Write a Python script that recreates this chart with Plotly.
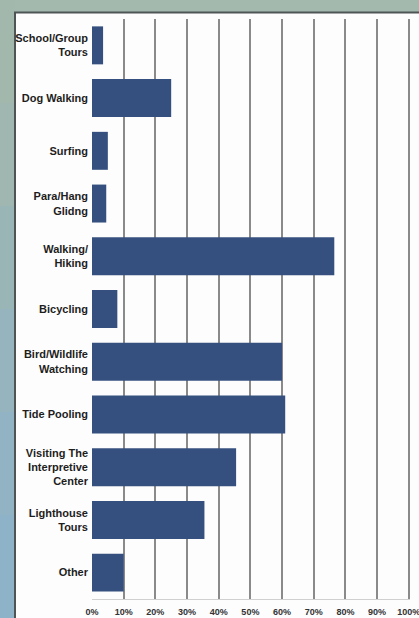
import plotly.graph_objects as go

categories = [
    "School/Group<br>Tours",
    "Dog Walking",
    "Surfing",
    "Para/Hang<br>Glidng",
    "Walking/<br>Hiking",
    "Bicycling",
    "Bird/Wildlife<br>Watching",
    "Tide Pooling",
    "Visiting The<br>Interpretive<br>Center",
    "Lighthouse<br>Tours",
    "Other",
]
values = [3.5, 25, 5, 4.5, 76.5, 8, 60, 61, 45.5, 35.5, 10]
tick_vals = [0, 10, 20, 30, 40, 50, 60, 70, 80, 90, 100]
tick_text = ["0%", "10%", "20%", "30%", "40%", "50%", "60%", "70%", "80%", "90%", "100%"]

W, H = 419, 618
L, R, T, B = 92, 9, 19, 19
pw, ph = W - L - R, H - T - B


def px_x(x):
    return (x - L) / pw


def px_y(y):
    return (H - B - y) / ph


fig = go.Figure(
    go.Bar(
        x=values,
        y=categories,
        orientation="h",
        marker=dict(color="#35507e", line=dict(width=0)),
        width=0.72,
    )
)

shapes = []
# top strip
shapes.append(dict(type="rect", xref="paper", yref="paper", layer="below",
                   x0=px_x(0), x1=px_x(W + 5), y0=px_y(12), y1=px_y(-2),
                   fillcolor="#a3b9ae", line=dict(width=0)))
# left strip gradient approximation (green top -> blue bottom)
strip_cols = ["#a2b8ac", "#9fb7b0", "#9ab5b6", "#95b4bd", "#91b3c4", "#8eb3c9"]
n = len(strip_cols)
for i, c in enumerate(strip_cols):
    y0 = H * i / n
    y1 = H * (i + 1) / n + 1
    shapes.append(dict(type="rect", xref="paper", yref="paper", layer="below",
                       x0=px_x(-2), x1=px_x(14.5), y0=px_y(y1), y1=px_y(y0),
                       fillcolor=c, line=dict(width=0)))
# panel borders
shapes.append(dict(type="line", xref="paper", yref="paper", layer="below",
                   x0=px_x(15), x1=px_x(15), y0=px_y(H + 5), y1=px_y(12),
                   line=dict(color="#4f5555", width=2)))
shapes.append(dict(type="line", xref="paper", yref="paper", layer="below",
                   x0=px_x(14), x1=px_x(W + 5), y0=px_y(12.5), y1=px_y(12.5),
                   line=dict(color="#4f5555", width=2)))

fig.update_layout(
    width=W,
    height=H,
    margin=dict(l=L, r=R, t=T, b=B, autoexpand=False),
    paper_bgcolor="#fdfdfd",
    plot_bgcolor="rgba(0,0,0,0)",
    showlegend=False,
    bargap=0.28,
    shapes=shapes,
    font=dict(family="Liberation Sans, Arial, sans-serif", color="#222222"),
)
fig.update_xaxes(
    range=[0, 100.4],
    tickvals=tick_vals,
    ticktext=tick_text,
    showgrid=True,
    gridcolor="#8a8a8a",
    gridwidth=1.5,
    zeroline=False,
    showline=True,
    linecolor="#d0d0d0",
    linewidth=1,
    ticks="",
    tickfont=dict(size=9, weight="bold", color="#333333"),
    ticklabelstandoff=4,
    ticklabeloverflow="allow",
    automargin=False,
    fixedrange=True,
)
fig.update_yaxes(
    autorange="reversed",
    showgrid=False,
    zeroline=False,
    showline=False,
    ticks="",
    tickfont=dict(size=11, weight="bold", color="#1e1e1e"),
    ticklabelstandoff=3,
    automargin=False,
    fixedrange=True,
)

fig.write_html("out.html", config={"displayModeBar": False})
